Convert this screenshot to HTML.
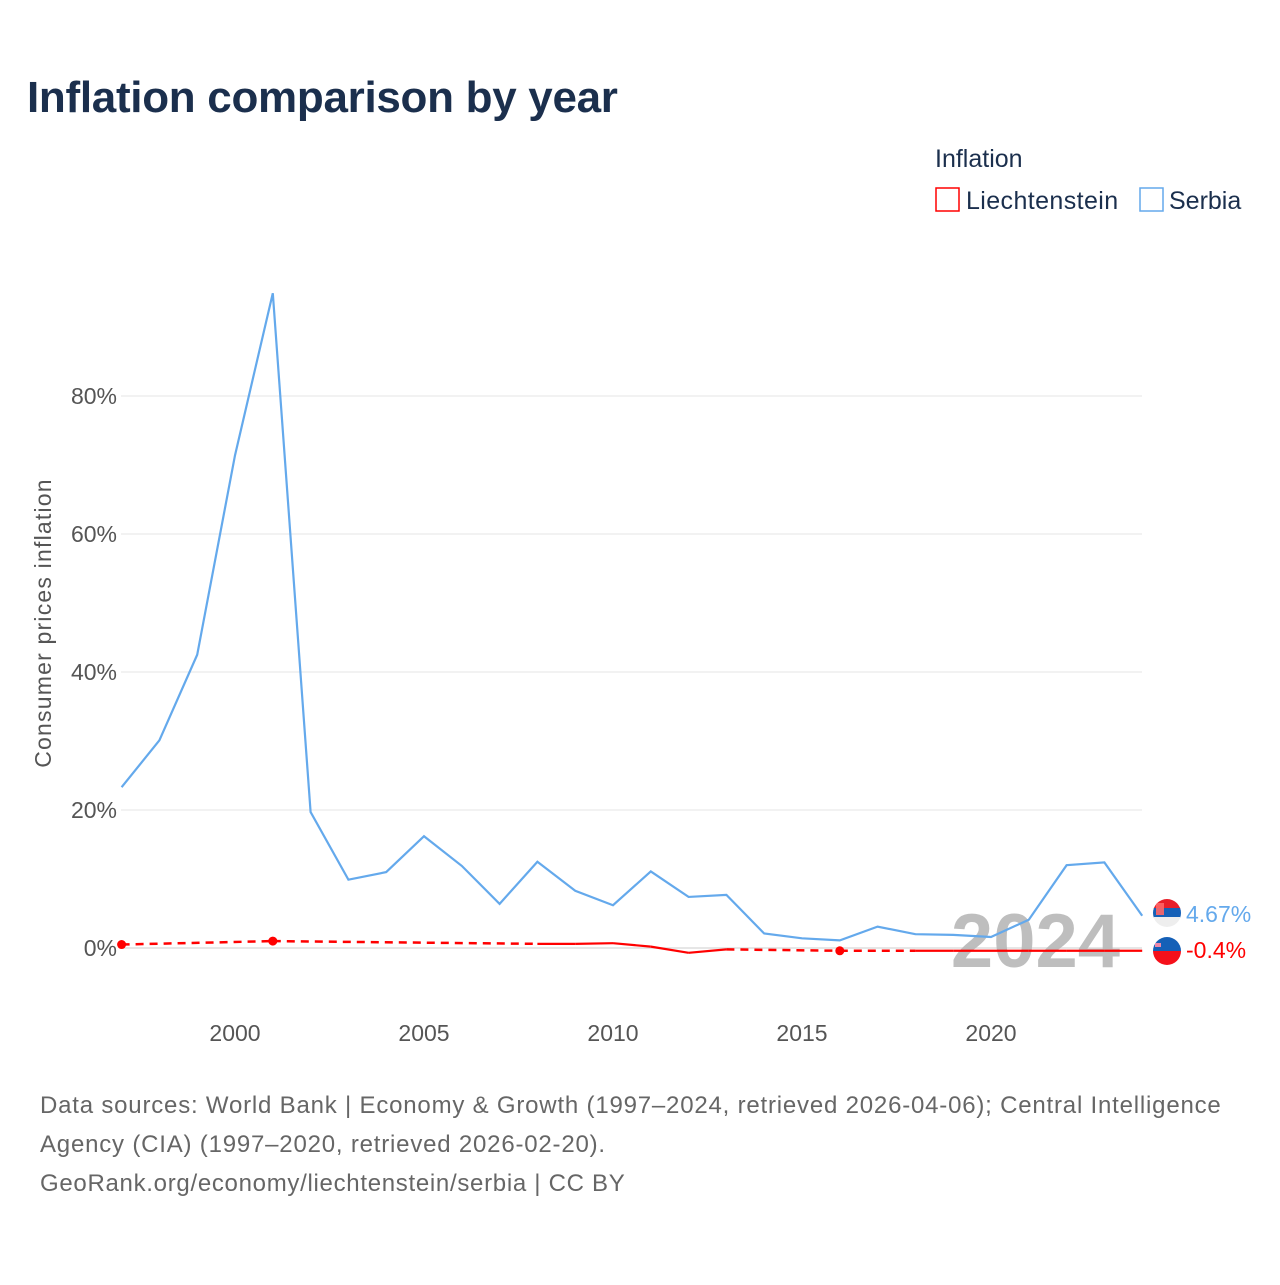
<!DOCTYPE html>
<html><head><meta charset="utf-8"><style>
body{margin:0;background:#fff;font-family:"Liberation Sans",sans-serif}
svg text{font-family:"Liberation Sans",sans-serif}
</style></head><body>
<svg width="1280" height="1280" xmlns="http://www.w3.org/2000/svg">
<text x="27" y="112" font-size="44" font-weight="bold" fill="#1b2f4d" letter-spacing="-0.3">Inflation comparison by year</text>
<text x="935" y="167" font-size="25" fill="#1b2f4d">Inflation</text>
<g><rect x="936" y="188" width="23" height="23" fill="none" stroke="#f00" stroke-width="1.5"/><text x="966" y="209" font-size="25" fill="#1b2f4d" letter-spacing="0.4">Liechtenstein</text></g>
<g><rect x="1140" y="188" width="23" height="23" fill="none" stroke="#64a9ec" stroke-width="1.5"/><text x="1169" y="209" font-size="25" fill="#1b2f4d">Serbia</text></g>
<g id="grid"></g>
<text transform="translate(51,623) rotate(-90)" text-anchor="middle" font-size="23" fill="#555" letter-spacing="1.2">Consumer prices inflation</text>
<text x="1120" y="967" text-anchor="end" font-size="76" font-weight="bold" fill="#bbb" opacity="0.95">2024</text>
<g id="plot"></g>
<g><clipPath id="c1"><circle cx="1167" cy="913" r="14"/></clipPath><g clip-path="url(#c1)"><rect x="1150" y="899" width="34" height="10" fill="#e8202a"/><rect x="1150" y="908" width="34" height="10" fill="#1560b7"/><rect x="1150" y="917" width="34" height="10" fill="#eee"/><rect x="1156" y="903" width="8" height="12" fill="#f66" opacity="0.9"/></g></g>
<g><clipPath id="c2"><circle cx="1167" cy="951" r="14"/></clipPath><g clip-path="url(#c2)"><rect x="1150" y="937" width="34" height="14" fill="#1560b7"/><rect x="1150" y="951" width="34" height="14" fill="#f5101a"/><rect x="1155" y="943" width="6" height="4" fill="#e8a"/></g></g>
<text x="1186" y="922" font-size="23" fill="#64a9ec">4.67%</text>
<text x="1186" y="958" font-size="23" fill="#f00">-0.4%</text>
<text x="40" y="1113" font-size="24" fill="#666" letter-spacing="0.8">Data sources: World Bank | Economy &amp; Growth (1997–2024, retrieved 2026-04-06); Central Intelligence</text>
<text x="40" y="1152" font-size="24" fill="#666" letter-spacing="0.8">Agency (CIA) (1997–2020, retrieved 2026-02-20).</text>
<text x="40" y="1191" font-size="24" fill="#666" letter-spacing="0.7">GeoRank.org/economy/liechtenstein/serbia | CC BY</text>
</svg>
<script>
const years=[1997,1998,1999,2000,2001,2002,2003,2004,2005,2006,2007,2008,2009,2010,2011,2012,2013,2014,2015,2016,2017,2018,2019,2020,2021,2022,2023,2024];
const serbia=[23.3,30.1,42.5,71.4,94.9,19.7,9.9,11.0,16.2,11.9,6.4,12.5,8.3,6.2,11.1,7.4,7.7,2.1,1.4,1.1,3.1,2.0,1.9,1.6,4.1,12.0,12.4,4.67];
const liechtenstein=[0.5,null,null,null,1.0,null,null,null,null,null,null,0.6,0.6,0.7,0.2,-0.7,-0.2,null,null,-0.4,null,-0.4,-0.4,-0.4,-0.4,-0.4,-0.4,-0.4];
const yTicks=[0,20,40,60,80];
const xTicks=[2000,2005,2010,2015,2020];
const NS="http://www.w3.org/2000/svg";
const x=v=>121.6+(v-1997)*37.8;
const y=v=>948-v*6.9;
const grid=document.getElementById('grid'),plot=document.getElementById('plot');
function mk(t,a,p){const e=document.createElementNS(NS,t);for(const k in a)e.setAttribute(k,a[k]);p.appendChild(e);return e;}
yTicks.forEach(t=>{
 const l=mk('line',{x1:121,x2:1142,y1:y(t),y2:y(t),stroke:t===0?'#ddd':'#eee','stroke-width':1.5},grid);
 
 
 const tx=mk('text',{x:117,y:y(t)+8,'text-anchor':'end','font-size':23,fill:'#555'},grid);
 tx.textContent=t+'%';
 
 
});
xTicks.forEach(t=>{
 const tx=mk('text',{x:x(t),y:1041,'text-anchor':'middle','font-size':23,fill:'#555'},grid);
 tx.textContent=t;
 
 
});
const sp=mk('polyline',{points:years.map((yr,i)=>x(yr)+','+y(serbia[i])).join(' '),fill:'none',stroke:'#64a9ec','stroke-width':2.2},plot);


let prev=null;
liechtenstein.forEach((v,i)=>{
 if(v===null)return;
 if(prev!==null){
  const gap=i-prev>1;
  const l=mk('line',{x1:x(years[prev]),y1:y(liechtenstein[prev]),x2:x(years[i]),y2:y(v),stroke:'#f00','stroke-width':gap?2.5:2.2,'stroke-dasharray':gap?'8 6':'none'},plot);
  
  
 }
 const iso=(i===0||liechtenstein[i-1]===null)&&(i===liechtenstein.length-1||liechtenstein[i+1]===null);
 if(iso){
  const c=mk('circle',{cx:x(years[i]),cy:y(v),r:4.5,fill:'#f00'},plot);
  
  
 }
 prev=i;
});
</script>
</body></html>
